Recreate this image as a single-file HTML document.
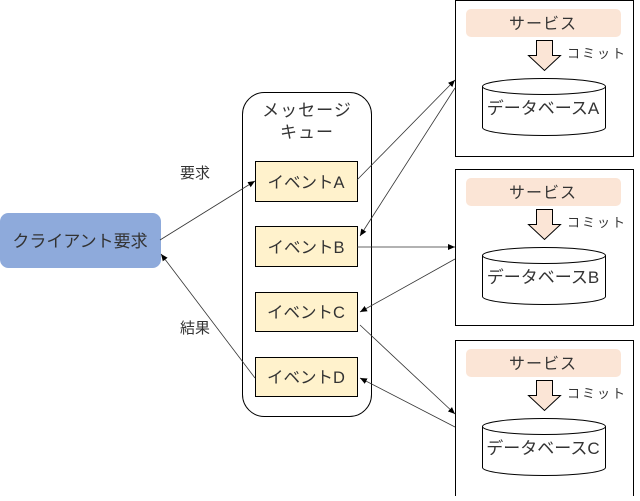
<!DOCTYPE html>
<html><head><meta charset="utf-8"><style>
body{margin:0;background:#fff}
text{font-family:"Liberation Sans","Noto Sans CJK JP",sans-serif;fill:#333}
</style></head><body>
<svg width="640" height="496" viewBox="0 0 640 496" xmlns="http://www.w3.org/2000/svg">
<defs><marker id="a" markerWidth="8" markerHeight="8" refX="7" refY="4" orient="auto" markerUnits="userSpaceOnUse"><path d="M0,1 L7,4 L0,7 Z" fill="#000"/></marker></defs>
<rect x="0.5" y="213.5" width="160" height="54" rx="8" fill="#8eaadb" stroke="#8eaadb"/>
<text x="80" y="247" font-size="17" text-anchor="middle">クライアント要求</text>
<rect x="242.5" y="92.5" width="129" height="324" rx="22" fill="#fff" stroke="#000"/>
<text x="307" y="116" font-size="17" text-anchor="middle" letter-spacing="1">メッセージ</text>
<text x="307" y="138" font-size="17" text-anchor="middle" letter-spacing="1">キュー</text>
<g fill="#fff2cc" stroke="#000">
<rect x="255.5" y="161.5" width="102" height="40"/>
<rect x="255.5" y="226.5" width="102" height="40"/>
<rect x="255.5" y="292.5" width="102" height="39"/>
<rect x="255.5" y="357.5" width="102" height="39"/>
</g>
<g font-size="16.5" text-anchor="middle">
<text x="306" y="188">イベントA</text>
<text x="306" y="253">イベントB</text>
<text x="306" y="318">イベントC</text>
<text x="306" y="383">イベントD</text>
</g>
<g id="svc">
<rect x="455.5" y="0.5" width="178" height="156" fill="#fff" stroke="#000"/>
<rect x="466" y="9" width="155" height="28" rx="5" fill="#fbe5d6"/>
<text x="543" y="29" font-size="16" text-anchor="middle" letter-spacing="1">サービス</text>
<path d="M536.5,40.5 H552.5 V55.5 H560.5 L544.5,70.5 L528.5,55.5 H536.5 Z" fill="#fbe5d6" stroke="#000"/>
<text x="567" y="58" font-size="13" letter-spacing="2">コミット</text>
<path d="M482.5,86.5 V127.5 A61.5,8 0 0 0 605.5,127.5 V86.5" fill="#fff" stroke="#000"/>
<ellipse cx="544" cy="86.5" rx="61.5" ry="8" fill="#fff" stroke="#000"/>
</g>
<text x="543" y="114" font-size="17" text-anchor="middle">データベースA</text>
<use href="#svc" y="169"/>
<text x="543" y="283" font-size="17" text-anchor="middle">データベースB</text>
<use href="#svc" y="340"/>
<text x="543" y="454" font-size="17" text-anchor="middle">データベースC</text>
<g stroke="#333" stroke-width="0.8" marker-end="url(#a)">
<line x1="160" y1="240" x2="255" y2="181"/>
<line x1="255" y1="378" x2="161" y2="254"/>
<line x1="357" y1="180" x2="455" y2="80"/>
<line x1="455" y1="88" x2="360" y2="236"/>
<line x1="357" y1="247" x2="455" y2="247"/>
<line x1="455" y1="259" x2="360" y2="312"/>
<line x1="360" y1="325" x2="455" y2="414"/>
<line x1="455" y1="427" x2="360" y2="378"/>
</g>
<text x="195" y="178" font-size="15" text-anchor="middle">要求</text>
<text x="195" y="333" font-size="15" text-anchor="middle">結果</text>
</svg>
</body></html>
